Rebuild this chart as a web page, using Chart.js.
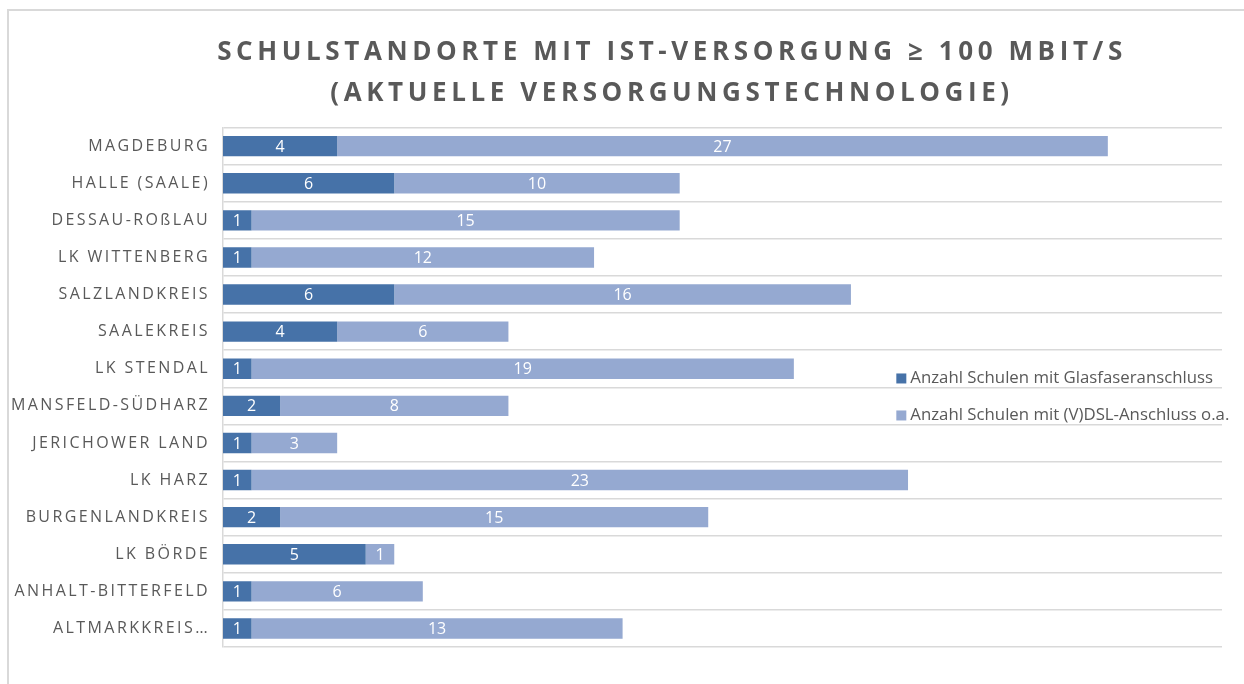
<!DOCTYPE html>
<html>
<head>
<meta charset="utf-8">
<script src="https://cdn.jsdelivr.net/npm/chart.js@4.4.1/dist/chart.umd.min.js"></script>
<style>
    html, body { margin: 0; padding: 0; background: #fff; }
    #wrap { position: relative; width: 1244px; height: 684px; overflow: hidden; }
    #rahmen { position: absolute; left: 7px; top: 9px; width: 1300px; height: 720px;
              border-left: 2px solid #d9d9d9; border-top: 2px solid #d9d9d9; }
    canvas { position: absolute; left: 0; top: 0; }
</style>
</head>
<body>
<div id="wrap">
    <div id="rahmen"></div>
    <canvas id="chartSchulen" width="1244" height="684"></canvas>
</div>
<script>
// Daten
const standorte = [
    "MAGDEBURG", "HALLE (SAALE)", "DESSAU-ROßLAU", "LK WITTENBERG", "SALZLANDKREIS",
    "SAALEKREIS", "LK STENDAL", "MANSFELD-SÜDHARZ", "JERICHOWER LAND", "LK HARZ",
    "BURGENLANDKREIS", "LK BÖRDE", "ANHALT-BITTERFELD", "ALTMARKKREIS…"
];
const glasfaser = [4, 6, 1, 1, 6, 4, 1, 2, 1, 1, 2, 5, 1, 1];
const dsl = [27, 10, 15, 12, 16, 6, 19, 8, 3, 23, 15, 1, 6, 13];
const serien = ["Anzahl Schulen mit Glasfaseranschluss", "Anzahl Schulen mit (V)DSL-Anschluss o.a."];
const titel = ["SCHULSTANDORTE MIT IST-VERSORGUNG ≥ 100 MBIT/S", "(AKTUELLE VERSORGUNGSTECHNOLOGIE)"];

const grau = "#595959";
const farben = ["#4672a8", "#95a9d1"];

// Sperrschrift (letterSpacing) fuer einzelne Zeichenfunktionen
function sperren(obj, name, abstand) {
    const orig = obj[name];
    if (!orig || orig._gesperrt) return;
    const neu = function (...args) {
        const c = this.ctx;
        const alt = c.letterSpacing;
        c.letterSpacing = abstand;
        orig.apply(this, args);
        c.letterSpacing = alt;
    };
    neu._gesperrt = true;
    obj[name] = neu;
}

const sperrPlugin = {
    id: "sperrschrift",
    beforeDraw(chart) {
        const y = chart.scales.y;
        // Beschriftung darf links ueber die (schmale) Achse hinausragen
        y._computeLabelArea = () => undefined;
        sperren(y, "drawLabels", "2.4px");
        if (chart.titleBlock) sperren(chart.titleBlock, "draw", "4.6px");
    }
};

// Werte mittig in die Balken schreiben
const wertePlugin = {
    id: "werte",
    afterDatasetsDraw(chart) {
        const ctx = chart.ctx;
        ctx.save();
        ctx.font = "16px 'Open Sans'";
        ctx.fillStyle = "#ffffff";
        ctx.textAlign = "center";
        ctx.textBaseline = "middle";
        chart.data.datasets.forEach((ds, i) => {
            chart.getDatasetMeta(i).data.forEach((bar, j) => {
                const v = ds.data[j];
                if (!v) return;
                ctx.fillText(String(v), (bar.x + bar.base) / 2, bar.y + 1);
            });
        });
        ctx.restore();
    }
};

// Legende innerhalb der Zeichenflaeche (rechts, mittig)
const legendePlugin = {
    id: "legendeInnen",
    afterDraw(chart) {
        const ctx = chart.ctx;
        const a = chart.chartArea;
        const x = a.left + (a.right - a.left) * 0.674;
        let y = a.top + (a.bottom - a.top) * 0.483;
        ctx.save();
        ctx.font = "16.8px 'Open Sans'";
        ctx.textBaseline = "middle";
        chart.data.datasets.forEach((ds) => {
            ctx.fillStyle = ds.backgroundColor;
            ctx.fillRect(x, y - 5, 10, 10);
            ctx.fillStyle = grau;
            ctx.fillText(ds.label, x + 14, y);
            y += 37;
        });
        ctx.restore();
    }
};

const ctx = document.getElementById("chartSchulen").getContext("2d");

new Chart(ctx, {
    type: "bar",
    data: {
        labels: standorte,
        datasets: [
            {
                label: serien[0],
                data: glasfaser,
                backgroundColor: farben[0],
                barPercentage: 1,
                categoryPercentage: 0.55
            },
            {
                label: serien[1],
                data: dsl,
                backgroundColor: farben[1],
                barPercentage: 1,
                categoryPercentage: 0.55
            }
        ]
    },
    options: {
        indexAxis: "y",
        responsive: false,
        animation: false,
        devicePixelRatio: 1,
        layout: { padding: { left: 122, right: 22, top: 0, bottom: 37 } },
        plugins: {
            legend: { display: false },
            tooltip: { enabled: false },
            title: {
                display: true,
                text: titel,
                color: grau,
                font: { family: "'Open Sans'", size: 26, weight: "bold", lineHeight: 1.6 },
                padding: { top: 31.5, bottom: 12.9 }
            }
        },
        scales: {
            x: {
                stacked: true,
                min: 0,
                max: 35,
                display: false
            },
            y: {
                stacked: true,
                afterFit(scale) { scale.width = 101; },
                grid: { color: "#d9d9d9", lineWidth: 1.5, drawTicks: false },
                border: { display: true, color: "#d9d9d9", width: 1.5 },
                ticks: {
                    color: grau,
                    padding: 13,
                    font: { family: "'Open Sans'", size: 16 }
                }
            }
        }
    },
    plugins: [sperrPlugin, wertePlugin, legendePlugin]
});
</script>
</body>
</html>
